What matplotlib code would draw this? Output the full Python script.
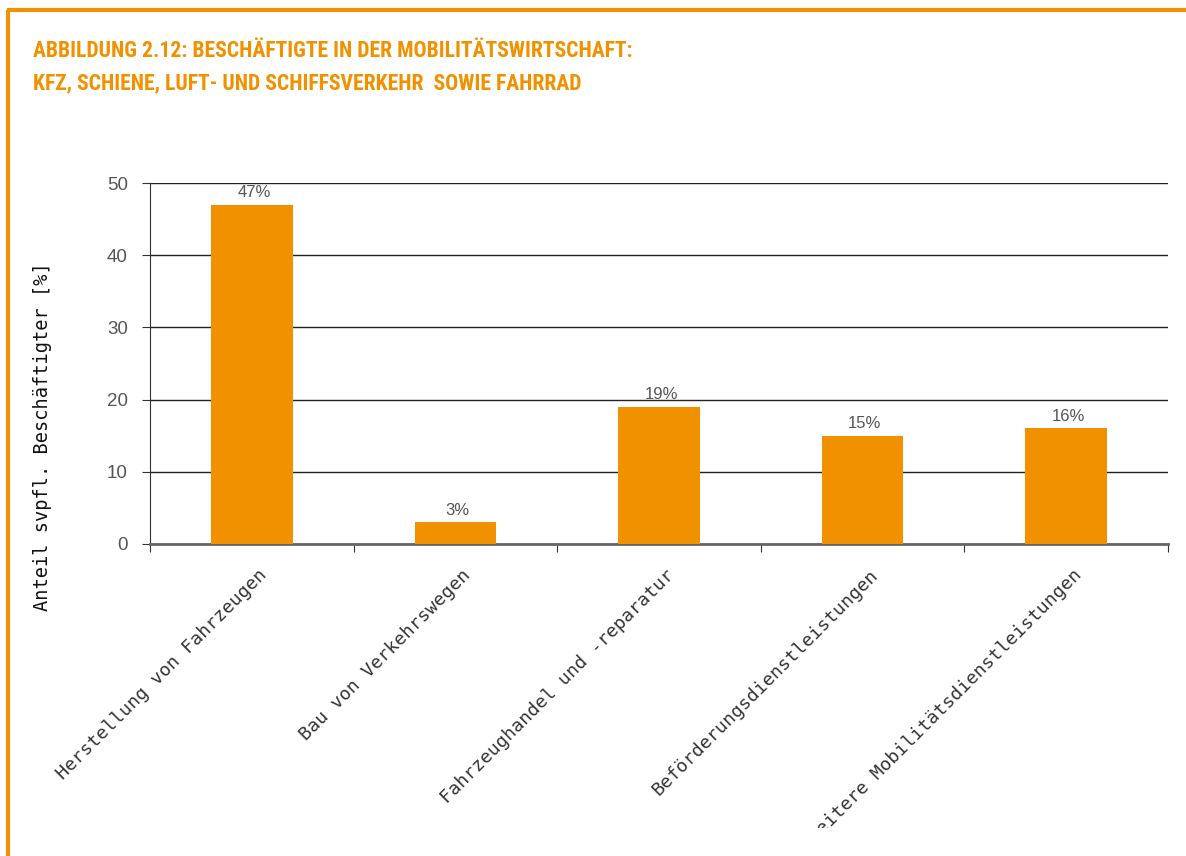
import matplotlib
matplotlib.use("Agg")
import matplotlib.pyplot as plt
from matplotlib.transforms import Bbox, TransformedBbox
from matplotlib.lines import Line2D

# data
categories = ["Herstellung von Fahrzeugen", "Bau von Verkehrswegen",
              "Fahrzeughandel und -reparatur", "Beförderungsdienstleistungen",
              "weitere Mobilitätsdienstleistungen"]
shares = [47, 3, 19, 15, 16]
yticks = [0, 10, 20, 30, 40, 50]

orange = "#F29100"

fig = plt.figure(figsize=(11.86, 8.56), dpi=100)

# orange frame (top + left)
fig.add_artist(Line2D([8 / 1186, 8 / 1186], [0, 1 - 10 / 856], color=orange, lw=3,
                      transform=fig.transFigure, solid_capstyle="butt"))
fig.add_artist(Line2D([6.5 / 1186, 1], [1 - 10 / 856, 1 - 10 / 856], color=orange, lw=3,
                      transform=fig.transFigure, solid_capstyle="butt"))

title_font = dict(family=["Roboto Condensed", "Roboto", "DejaVu Sans"], weight="bold",
                  size=15.6, color=orange)
fig.text(33 / 1186, 1 - 57 / 856, "ABBILDUNG 2.12: BESCHÄFTIGTE IN DER MOBILITÄTSWIRTSCHAFT:",
         va="baseline", **title_font)
fig.text(33 / 1186, 1 - 89 / 856, "KFZ, SCHIENE, LUFT- UND SCHIFFSVERKEHR  SOWIE FAHRRAD",
         va="baseline", **title_font)

ax = fig.add_axes([150 / 1186, 1 - 544 / 856, 1018 / 1186, 361 / 856])
x = range(len(categories))
bars = ax.bar(x, shares, width=0.4, color=orange, zorder=3)
for xi, v in zip(x, shares):
    ax.text(xi + 0.01, v + 0.6, f"{v}%", ha="center", va="bottom", fontsize=12,
            color="#555555", family="Liberation Sans")

ax.set_xlim(-0.5, len(categories) - 0.5)
ax.set_ylim(0, 50)
ax.set_yticks(yticks)
ax.set_yticklabels([str(t) for t in yticks], fontsize=13.5, color="#555555",
                   family="Liberation Sans")
ax.yaxis.grid(True, color="#222222", lw=1)
ax.set_axisbelow(True)

ax.set_xticks([i + 0.5 for i in range(-1, len(categories))], minor=False)
ax.set_xticklabels([])
ax.set_xticks([i + 0.03 for i in x], minor=True)
ax.set_xticklabels(categories, minor=True, rotation=45, ha="right",
                   rotation_mode="anchor", family="DejaVu Sans Mono",
                   fontsize=13.2, color="#333333")
ax.tick_params(axis="x", which="minor", length=0, pad=16)
ax.tick_params(axis="x", which="major", length=6, color="#333333", direction="out")
ax.tick_params(axis="y", length=6, color="#333333", pad=10)

for s in ["top", "right"]:
    ax.spines[s].set_visible(False)
ax.spines["left"].set_color("#333333")
ax.spines["bottom"].set_color("#666666")
ax.spines["bottom"].set_linewidth(2)

# bottom of picture cuts the last label
clip = TransformedBbox(Bbox([[0, 28 / 856], [1, 1]]), fig.transFigure)
for lab in ax.get_xticklabels(minor=True):
    lab.set_clip_on(True)
    lab.set_clip_box(clip)

fig.text(42 / 1186, 1 - 437 / 856, "Anteil svpfl. Beschäftigter [%]", rotation=90,
         ha="center", va="center", family="DejaVu Sans Mono", fontsize=13.4, color="#111111")

fig.savefig("out.png", dpi=100)
